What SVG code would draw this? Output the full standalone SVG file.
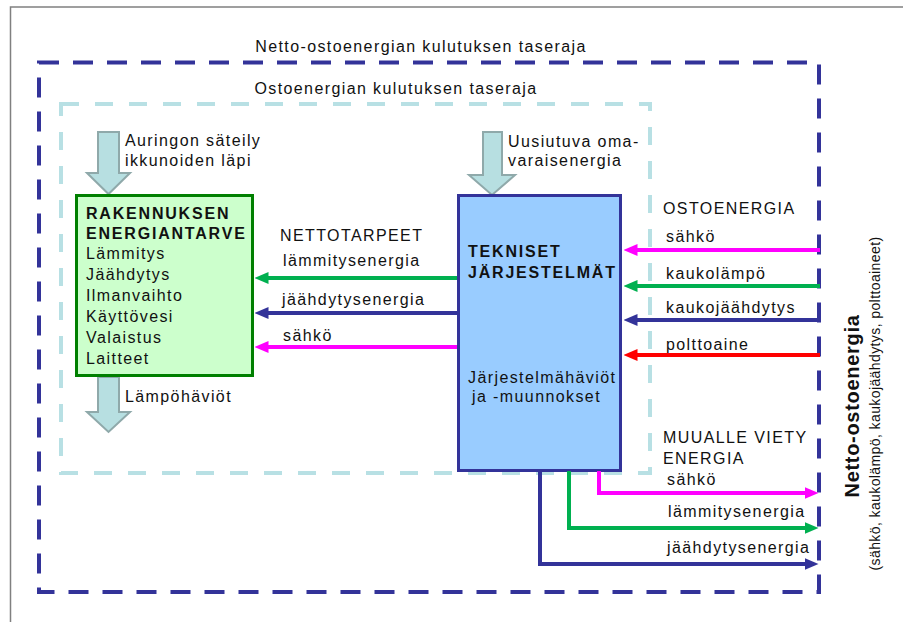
<svg xmlns="http://www.w3.org/2000/svg" width="903" height="622" viewBox="0 0 903 622">
<style>
text{font-family:"Liberation Sans",Arial,sans-serif;fill:#111;}
.t{font-size:16px;letter-spacing:1.4px;}
.b{font-size:16px;font-weight:bold;letter-spacing:1.8px;}
.blk{fill:#b7dfe1;stroke:#8fa9aa;stroke-width:2;}
.ln{fill:none;stroke-width:4;}
.g{stroke:#00b050;}.bl{stroke:#333399;}.m{stroke:#ff00ff;}.r{stroke:#ff0000;}
</style>
<defs>
<marker id="ag" markerUnits="userSpaceOnUse" markerWidth="14" markerHeight="12" refX="0.5" refY="6" orient="auto"><path d="M0,0 L14,6 L0,12 z" fill="#00b050"/></marker>
<marker id="ab" markerUnits="userSpaceOnUse" markerWidth="14" markerHeight="12" refX="0.5" refY="6" orient="auto"><path d="M0,0 L14,6 L0,12 z" fill="#333399"/></marker>
<marker id="am" markerUnits="userSpaceOnUse" markerWidth="14" markerHeight="12" refX="0.5" refY="6" orient="auto"><path d="M0,0 L14,6 L0,12 z" fill="#ff00ff"/></marker>
<marker id="ar" markerUnits="userSpaceOnUse" markerWidth="14" markerHeight="12" refX="0.5" refY="6" orient="auto"><path d="M0,0 L14,6 L0,12 z" fill="#ff0000"/></marker>
</defs>
<rect width="903" height="622" fill="#fff"/>
<path d="M10.5,622 V7 H903" fill="none" stroke="#808080" stroke-width="1.5"/>

<g id="boundaries">
<rect x="39" y="62.5" width="780" height="529.5" fill="none" stroke="#333399" stroke-width="4" stroke-dasharray="20 14"/>
<text class="t" x="421" y="52" text-anchor="middle">Netto-ostoenergian kulutuksen taseraja</text>
<rect x="61" y="104" width="589" height="369" fill="none" stroke="#b8e0e4" stroke-width="4" stroke-dasharray="18 16"/>
<text class="t" x="396" y="94" text-anchor="middle">Ostoenergian kulutuksen taseraja</text>
</g>

<g id="solar">
<polygon class="blk" points="98,132 119,132 119,173 130,173 108.5,194 87,173 98,173"/>
<text class="t" x="125" y="146">Auringon säteily</text>
<text class="t" x="125" y="166">ikkunoiden läpi</text>
</g>
<g id="heatloss">
<polygon class="blk" points="98,377 119,377 119,412 130,412 108.5,432 87,412 98,412"/>
<text class="t" x="125" y="402">Lämpöhäviöt</text>
</g>
<g id="renewable">
<polygon class="blk" points="483,132 502,132 502,175 515,175 492,195 469,175 483,175"/>
<text class="t" x="508" y="147">Uusiutuva oma-</text>
<text class="t" x="508" y="166">varaisenergia</text>
</g>

<g id="building">
<rect x="76.5" y="195.5" width="176" height="180" fill="#ccffcc" stroke="#008000" stroke-width="3"/>
<text class="b" x="86" y="219">RAKENNUKSEN</text>
<text class="b" x="86" y="239">ENERGIANTARVE</text>
<text class="t" x="86" y="259">Lämmitys</text>
<text class="t" x="86" y="280">Jäähdytys</text>
<text class="t" x="86" y="301">Ilmanvaihto</text>
<text class="t" x="86" y="322">Käyttövesi</text>
<text class="t" x="86" y="343">Valaistus</text>
<text class="t" x="86" y="364">Laitteet</text>
</g>

<g id="systems">
<rect x="458.5" y="195.5" width="162" height="275" fill="#99ccff" stroke="#333399" stroke-width="3"/>
<text class="b" x="468" y="257">TEKNISET</text>
<text class="b" x="468" y="278">JÄRJESTELMÄT</text>
<text class="t" x="468" y="383">Järjestelmähäviöt</text>
<text class="t" x="472" y="402">ja -muunnokset</text>
</g>

<g id="connectors">
<line class="ln g" x1="457" y1="278" x2="268" y2="278" marker-end="url(#ag)"/>
<line class="ln bl" x1="457" y1="313" x2="268" y2="313" marker-end="url(#ab)"/>
<line class="ln m" x1="457" y1="347" x2="268" y2="347" marker-end="url(#am)"/>
<line class="ln m" x1="820" y1="250" x2="637" y2="250" marker-end="url(#am)"/>
<line class="ln g" x1="820" y1="286" x2="637" y2="286" marker-end="url(#ag)"/>
<line class="ln bl" x1="820" y1="320" x2="637" y2="320" marker-end="url(#ab)"/>
<line class="ln r" x1="820" y1="355" x2="637" y2="355" marker-end="url(#ar)"/>
<path class="ln m" d="M599,471 V493 H805" marker-end="url(#am)"/>
<path class="ln g" d="M569,471 V528 H805" marker-end="url(#ag)"/>
<path class="ln bl" d="M540,471 V564 H805" marker-end="url(#ab)"/>
</g>

<g id="labels">
<text class="t" x="280" y="241">NETTOTARPEET</text>
<text class="t" x="283" y="266">lämmitysenergia</text>
<text class="t" x="282" y="305">jäähdytysenergia</text>
<text class="t" x="283" y="341">sähkö</text>
<text class="t" x="663" y="214">OSTOENERGIA</text>
<text class="t" x="666" y="242">sähkö</text>
<text class="t" x="666" y="279">kaukolämpö</text>
<text class="t" x="666" y="313">kaukojäähdytys</text>
<text class="t" x="666" y="350">polttoaine</text>
<text class="t" x="663" y="443">MUUALLE VIETY</text>
<text class="t" x="663" y="464">ENERGIA</text>
<text class="t" x="667" y="485">sähkö</text>
<text class="t" x="668" y="517">lämmitysenergia</text>
<text class="t" x="667" y="553">jäähdytysenergia</text>
</g>

<g id="netto-label">
<text transform="translate(859,406) rotate(-90)" text-anchor="middle" style="font-size:20px;font-weight:bold;letter-spacing:0.7px">Netto-ostoenergia</text>
<text transform="translate(880,403.5) rotate(-90)" text-anchor="middle" style="font-size:14px;letter-spacing:0.4px">(sähkö, kaukolämpö, kaukojäähdytys, polttoaineet)</text>
</g>
</svg>
